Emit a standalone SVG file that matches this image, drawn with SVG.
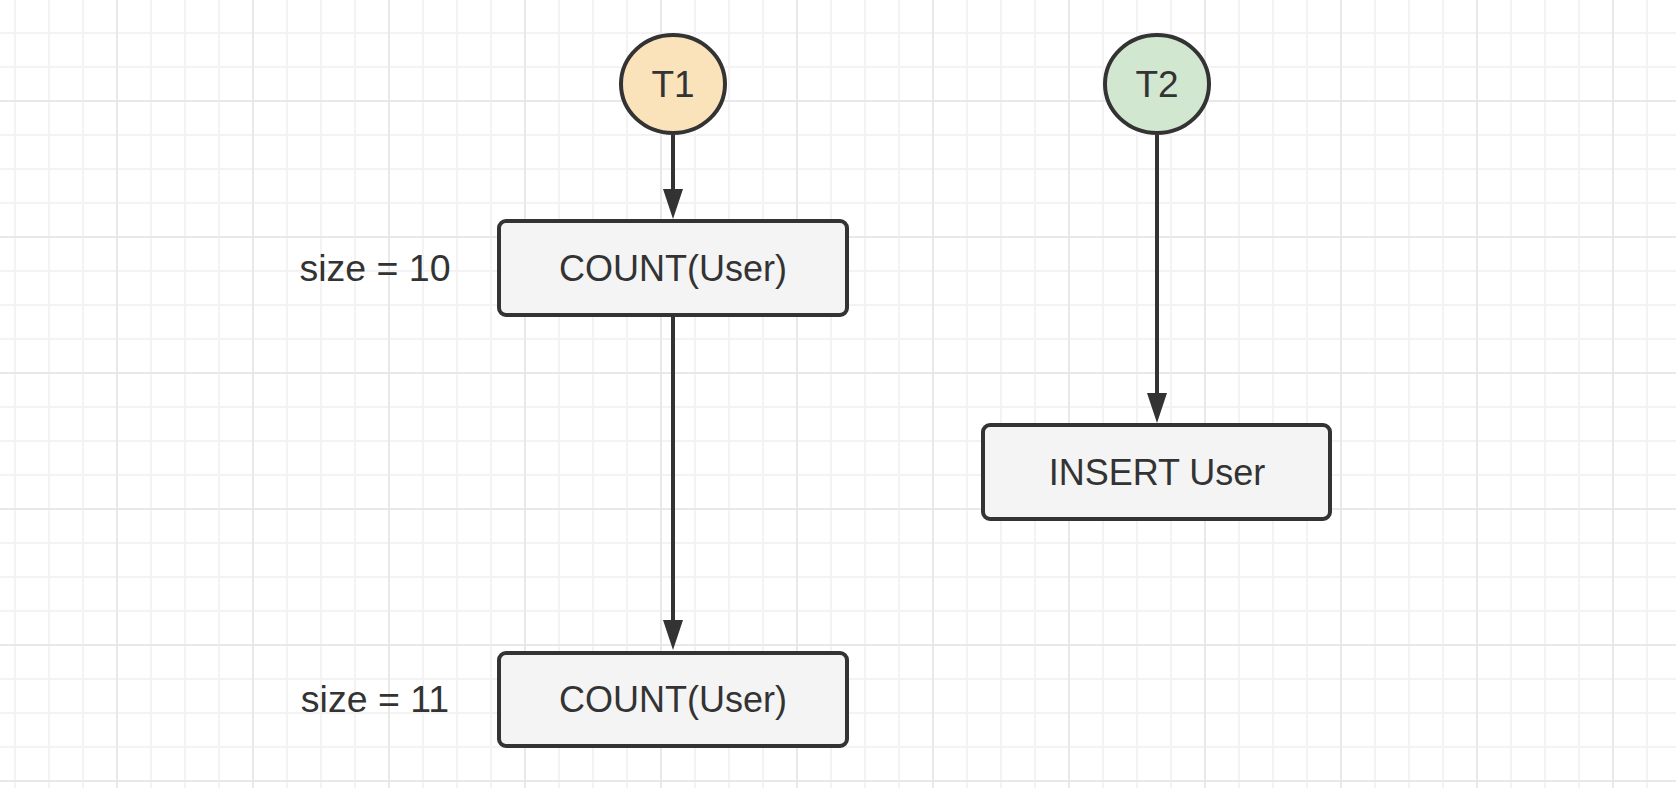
<svg xmlns="http://www.w3.org/2000/svg" width="1676" height="788" viewBox="0 0 1676 788">
  <style>
    .box { fill: #f4f4f4; stroke: #333333; stroke-width: 4; }
    .circ { stroke: #333333; stroke-width: 4; }
    .lbl { font-family: "Liberation Sans", Arial, Helvetica, sans-serif; fill: #333333; text-anchor: middle; }
    .edge { stroke: #333333; stroke-width: 4; fill: none; }
  </style>
  <defs>
    <pattern id="grid" x="116" y="100" width="136" height="136" patternUnits="userSpaceOnUse">
      <rect x="34" y="0" width="2" height="136" fill="#f3f3f3"/>
      <rect x="68" y="0" width="2" height="136" fill="#f3f3f3"/>
      <rect x="102" y="0" width="2" height="136" fill="#f3f3f3"/>
      <rect x="0" y="34" width="136" height="2" fill="#f3f3f3"/>
      <rect x="0" y="68" width="136" height="2" fill="#f3f3f3"/>
      <rect x="0" y="102" width="136" height="2" fill="#f3f3f3"/>
      <rect x="0" y="0" width="2" height="136" fill="#e8e8e8"/>
      <rect x="0" y="0" width="136" height="2" fill="#e8e8e8"/>
    </pattern>
    <marker id="arrow" markerUnits="userSpaceOnUse" markerWidth="30" markerHeight="20" refX="2" refY="10" orient="auto">
      <path d="M0,0 L30,10 L0,20 Z" fill="#333333"/>
    </marker>
  </defs>

  <rect x="0" y="0" width="1676" height="788" fill="#ffffff"/>
  <rect x="0" y="0" width="1676" height="788" fill="url(#grid)"/>

  <g id="connectors">
    <line class="edge" x1="673" y1="135" x2="673" y2="191" marker-end="url(#arrow)"/>
    <line class="edge" x1="673" y1="317" x2="673" y2="622" marker-end="url(#arrow)"/>
    <line class="edge" x1="1157" y1="135" x2="1157" y2="395" marker-end="url(#arrow)"/>
  </g>

  <g id="T1">
    <ellipse class="circ" cx="673" cy="84" rx="52" ry="49" fill="#fae2bb"/>
    <text class="lbl" x="673" y="97" font-size="37">T1</text>
  </g>

  <g id="T2">
    <ellipse class="circ" cx="1157" cy="84" rx="52" ry="49" fill="#d2e7d0"/>
    <text class="lbl" x="1157" y="97" font-size="37">T2</text>
  </g>

  <g id="count1">
    <rect class="box" x="499" y="221" width="348" height="94" rx="7" ry="7"/>
    <text class="lbl" x="673" y="281" font-size="36">COUNT(User)</text>
  </g>

  <g id="count2">
    <rect class="box" x="499" y="653" width="348" height="93" rx="7" ry="7"/>
    <text class="lbl" x="673" y="712" font-size="36">COUNT(User)</text>
  </g>

  <g id="insert">
    <rect class="box" x="983" y="425" width="347" height="94" rx="7" ry="7"/>
    <text class="lbl" x="1157" y="485" font-size="36">INSERT User</text>
  </g>

  <g id="size10">
    <text class="lbl" x="375" y="281" font-size="37.5">size = 10</text>
  </g>

  <g id="size11">
    <text class="lbl" x="375" y="712" font-size="37.5">size = 11</text>
  </g>
</svg>
